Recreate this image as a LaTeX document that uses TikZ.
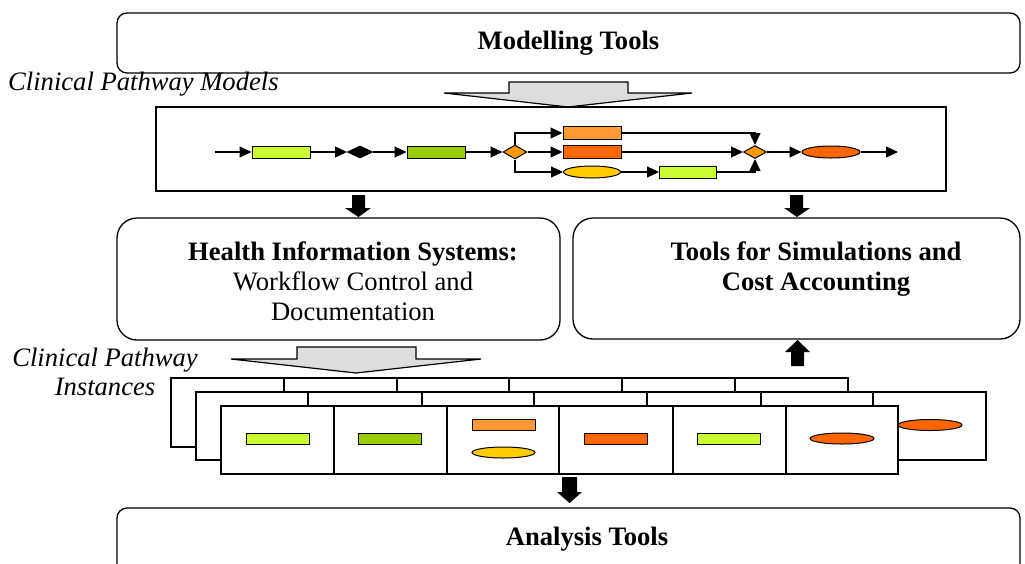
\documentclass[tikz,border=0pt]{standalone}
\usepackage{fontspec}
\setmainfont{Liberation Serif}
\usetikzlibrary{shapes.geometric,arrows.meta}
\definecolor{cLime}{HTML}{CCFF33}
\definecolor{cGreen}{HTML}{99CC00}
\definecolor{cLOrange}{HTML}{FF9933}
\definecolor{cDOrange}{HTML}{FF6600}
\definecolor{cYellow}{HTML}{FFCC00}
\definecolor{cDiam}{HTML}{FF9900}
\definecolor{cGray}{HTML}{DDDDDD}
\begin{document}
\begin{tikzpicture}[x=1pt,y=-1pt,
  bigbox/.style={draw,line width=1.3pt,rounded corners=#1,inner sep=0pt},
  bigtext/.style={font=\fontsize{26.6}{30}\selectfont,align=center,inner sep=0pt},
  itext/.style={font=\fontsize{26.6}{29}\selectfont\itshape,align=center,inner sep=0pt},
  act/.style={draw,line width=1pt,rectangle,inner sep=0pt,minimum width=58pt,minimum height=12pt},
  evt/.style={draw,line width=1pt,ellipse,inner sep=0pt,minimum width=58pt,minimum height=12pt},
  gate/.style={draw,line width=1pt,diamond,inner sep=0pt,aspect=2,minimum width=24pt,minimum height=13pt},
  flow/.style={line width=1.1pt,-{Triangle[length=12pt,width=11pt]}},
  frame/.style={draw,line width=1.3pt,fill=white},
  grayarrow/.style={draw,line width=1.2pt,fill=cGray,line join=miter},
  blk/.style={fill=black}
]
\clip (0,0) rectangle (1025,563);
% Modelling Tools
\node[bigbox=10pt,minimum width=903pt,minimum height=60pt,font=\fontsize{26.6}{30}\selectfont\bfseries] (mt) at (568.5,43) {Modelling Tools};
\node[itext,anchor=base west] (cpm) at (8,90) {Clinical Pathway Models};
% gray arrow 1
\draw[grayarrow] (444,93) -- (509,93) -- (509,82) -- (628,82) -- (628,93) -- (692,93) -- (568,107) -- cycle;
% model box
\draw[line width=1.3pt] (156,107) rectangle (946,191);
\coordinate (s) at (215,152);
\node[act,fill=cLime] (r1) at (281,152) {};
\node[gate,fill=black,minimum width=25pt,minimum height=12pt] (d1) at (360,152) {};
\node[act,fill=cGreen] (r2) at (436,152) {};
\node[gate,fill=cDiam,minimum height=14pt] (d2) at (515,152) {};
\node[act,fill=cLOrange,minimum height=13pt] (rA) at (592,133) {};
\node[act,fill=cDOrange,minimum height=13pt] (rB) at (592,152) {};
\node[evt,fill=cYellow,minimum width=57pt] (eC) at (592,172) {};
\node[act,fill=cLime,minimum width=57pt] (rD) at (688,172) {};
\node[gate,fill=cDiam,minimum width=23pt] (d3) at (755,152) {};
\node[evt,fill=cDOrange] (eE) at (831,152) {};
\coordinate (e) at (898,152);
\draw[flow] (s) -- (r1);
\draw[flow] (r1) -- (d1);
\draw[flow] (d1) -- (r2);
\draw[flow] (r2) -- (d2);
\draw[flow] (d2.north) |- (rA.west);
\draw[flow] (d2) -- (rB);
\draw[flow] (d2.south) |- (eC.west);
\draw[flow] (eC) -- (rD);
\draw[flow] (rA.east) -| (d3.north);
\draw[flow] (rB) -- (d3);
\draw[flow] (rD.east) -| (d3.south);
\draw[flow] (d3) -- (eE);
\draw[flow] (eE) -- (e);
% black arrows
\fill[blk] (352,195) -- (365,195) -- (365,208) -- (371,208) -- (358.5,217) -- (345,208) -- (352,208) -- cycle;
\fill[blk] (790,195) -- (803,195) -- (803,208) -- (810,208) -- (797,217) -- (784,208) -- (790,208) -- cycle;
% HIS box
\node[bigbox=20pt,minimum width=443pt,minimum height=122pt] (his) at (338.5,279) {};
\node[bigtext,anchor=base] (hist) at (353,320) {\textbf{Health Information Systems:}\\Workflow Control and\\Documentation};
% Tools box
\node[bigbox=20pt,minimum width=447pt,minimum height=121pt] (tools) at (796.5,278.5) {};
\node[bigtext,anchor=base,font=\fontsize{26.6}{30}\selectfont\bfseries] (toolst) at (816,290) {Tools for Simulations and\\Cost Accounting};
% up arrow
\fill[blk] (791,366) -- (804,366) -- (804,352) -- (810,352) -- (797.5,340) -- (785,352) -- (791,352) -- cycle;
% Instances label
\node[itext,anchor=base] (cpi) at (105,395) {Clinical Pathway\\Instances};
% gray arrow 2
\draw[grayarrow] (231,359) -- (297,359) -- (297,347) -- (416,347) -- (416,359) -- (481,359) -- (356,373) -- cycle;
% back frame
\draw[frame] (171,378) rectangle (848,447);
\foreach \x in {284,397,509,622,735} \draw[line width=1.3pt] (\x,378) -- (\x,447);
% middle frame
\draw[frame] (196,392) rectangle (986,460);
\foreach \x in {308,422,534,647,761,873} \draw[line width=1.3pt] (\x,392) -- (\x,460);
\node[evt,fill=cDOrange,minimum width=64pt,minimum height=11pt] (m7) at (930,425) {};
% front frame
\draw[frame] (221,406) rectangle (898,474);
\foreach \x in {334,447,559,673,786} \draw[line width=1.3pt] (\x,406) -- (\x,474);
\node[act,fill=cLime,minimum width=63pt,minimum height=11pt] (f1) at (277.5,438.5) {};
\node[act,fill=cGreen,minimum width=63pt,minimum height=11pt] (f2) at (390,438.5) {};
\node[act,fill=cLOrange,minimum width=63pt,minimum height=11pt] (f3a) at (503.5,424.5) {};
\node[evt,fill=cYellow,minimum width=63pt,minimum height=11pt] (f3b) at (503.5,452.5) {};
\node[act,fill=cDOrange,minimum width=63pt,minimum height=11pt] (f4) at (616,438.5) {};
\node[act,fill=cLime,minimum width=63pt,minimum height=11pt] (f5) at (729,438.5) {};
\node[evt,fill=cDOrange,minimum width=64pt,minimum height=11pt] (f6) at (842,438.5) {};
% down arrow to analysis
\fill[blk] (562,477) -- (577,477) -- (577,492) -- (582,492) -- (569.5,503) -- (557,492) -- (562,492) -- cycle;
% Analysis box
\node[bigbox=10pt,minimum width=903pt,minimum height=80pt] (an) at (568.5,548) {};
\node[bigtext,anchor=base,font=\fontsize{26.6}{30}\selectfont\bfseries] (ant) at (587,545) {Analysis Tools};
\end{tikzpicture}
\end{document}
